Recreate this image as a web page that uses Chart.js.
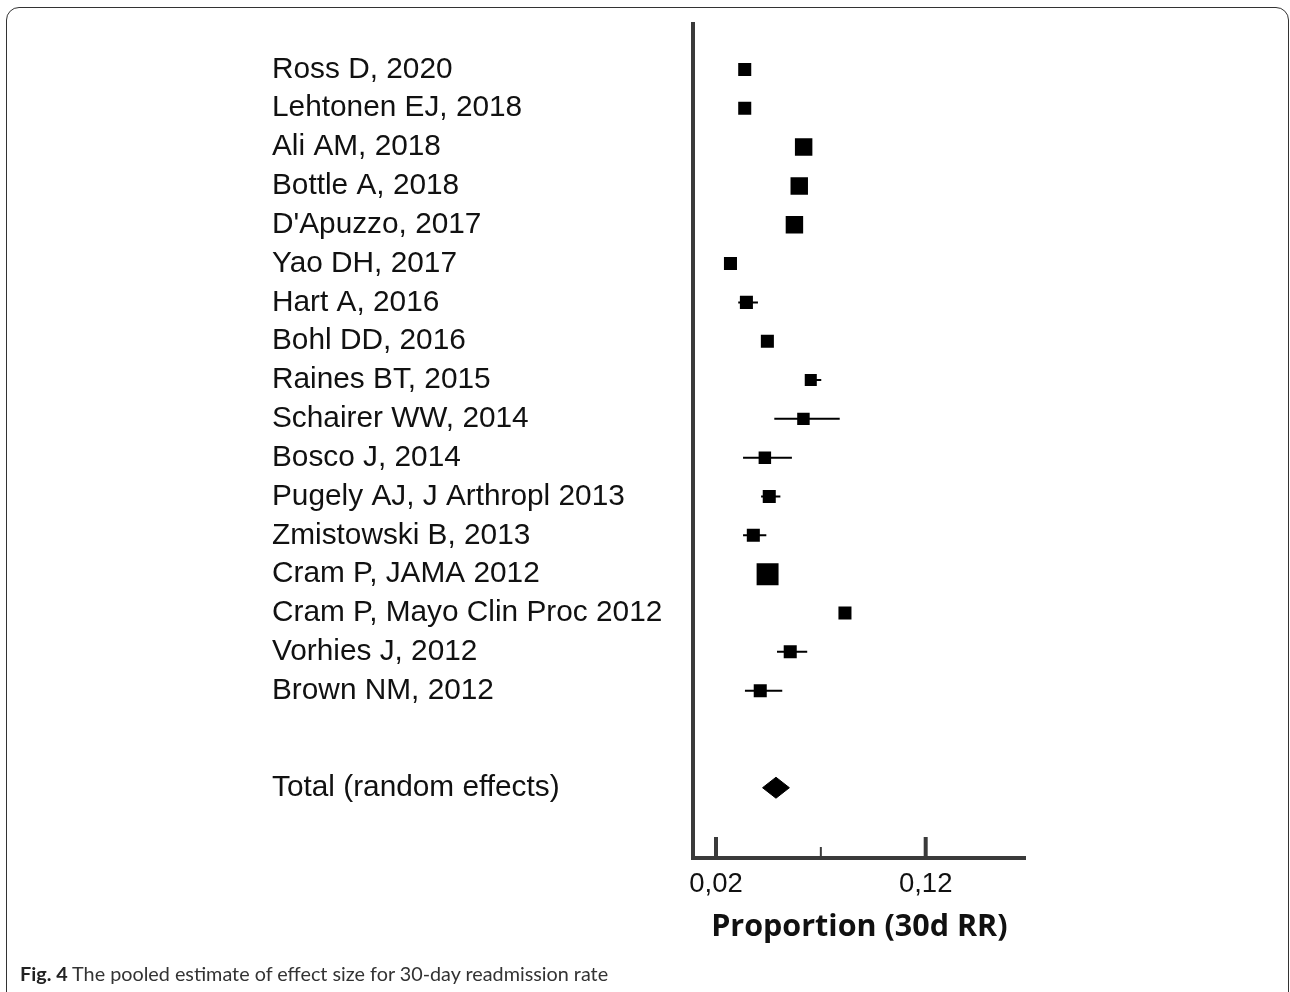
<!DOCTYPE html>
<html lang="en">
<head>
    <meta charset="UTF-8">
    <title>Forest plot - 30 day readmission rate</title>
    <script src="https://cdn.jsdelivr.net/npm/chart.js"></script>
    <style>
        body { margin: 0; background: #fff; }
        #wrap { position: relative; width: 1290px; height: 992px; overflow: hidden; }
        #frame {
            position: absolute; left: 6px; top: 7px; width: 1283px; height: 1000px;
            border: 1.5px solid #333; border-radius: 13px; box-sizing: border-box;
        }
        canvas { position: absolute; left: 0; top: 0; }
        #caption {
            position: absolute; left: 20px; top: 963px;
            font-family: Lato, "Open Sans", sans-serif; font-size: 19.8px; line-height: 21px;
            color: #333; white-space: nowrap;
        }
        #caption b { color: #222; }
    </style>
</head>
<body>
<div id="wrap">
    <div id="frame"></div>
    <canvas id="forest" width="1290" height="992"></canvas>
    <div id="caption"><b>Fig. 4</b> The pooled estimate of effect size for 30-day readmission rate</div>
</div>

<script>
    // studies, top to bottom
    const studies = [
        'Ross D, 2020', 'Lehtonen EJ, 2018', 'Ali AM, 2018', 'Bottle A, 2018', "D'Apuzzo, 2017",
        'Yao DH, 2017', 'Hart A, 2016', 'Bohl DD, 2016', 'Raines BT, 2015', 'Schairer WW, 2014',
        'Bosco J, 2014', 'Pugely AJ, J Arthropl 2013', 'Zmistowski B, 2013', 'Cram P, JAMA 2012',
        'Cram P, Mayo Clin Proc 2012', 'Vorhies J, 2012', 'Brown NM, 2012'
    ];
    const estimate = [0.0337, 0.0337, 0.0618, 0.0597, 0.0574, 0.0269, 0.0345, 0.0445, 0.0652, 0.0617,
                      0.0433, 0.0454, 0.0378, 0.0446, 0.0815, 0.0554, 0.0411];
    const lower    = [0.0322, 0.0322, 0.0600, 0.0580, 0.0556, 0.0254, 0.0306, 0.0430, 0.0625, 0.0478,
                      0.0329, 0.0415, 0.0329, 0.0430, 0.0800, 0.0491, 0.0338];
    const upper    = [0.0352, 0.0352, 0.0636, 0.0614, 0.0592, 0.0284, 0.0400, 0.0460, 0.0702, 0.0790,
                      0.0562, 0.0507, 0.0440, 0.0462, 0.0830, 0.0635, 0.0516];
    // study weights (%)
    const weights  = [4.8, 4.8, 8.6, 8.6, 8.6, 4.8, 4.8, 4.8, 4.1, 4.4,
                      4.4, 4.8, 4.8, 13.6, 4.8, 4.8, 4.8];

    const totalLabel = 'Total (random effects)';
    const totalEstimate = 0.0486;
    const totalLower = 0.0422;
    const totalUpper = 0.0550;

    const xTicks = [0.02, 0.07, 0.12];
    const xTickLabels = ['0,02', '', '0,12'];
    const xTitle = 'Proportion (30d RR)';

    const AXIS_COLOR = '#3a3a3a';
    const TEXT_COLOR = '#111';
    const totalRow = studies.length + 1.5;
    const rows = studies.map((s, i) => i).concat([totalRow]);

    // CI whiskers, null point breaks the line between studies
    const whiskers = [];
    studies.forEach((s, i) => {
        whiskers.push({x: lower[i], y: i}, {x: upper[i], y: i}, {x: null, y: null});
    });

    const boxes = studies.map((s, i) => ({x: estimate[i], y: i}));
    const boxRadius = weights.map(w => 5.95 * Math.sqrt(w) / Math.SQRT2);

    const DIAMOND_HALF = 0.27;
    const diamond = [
        {x: totalLower, y: totalRow},
        {x: totalEstimate, y: totalRow - DIAMOND_HALF},
        {x: totalUpper, y: totalRow},
        {x: totalEstimate, y: totalRow + DIAMOND_HALF},
        {x: totalLower, y: totalRow}
    ];

    // short tick marks pointing up into the plot
    const tickMarks = {
        id: 'tickMarks',
        afterDraw(chart) {
            const sx = chart.scales.x;
            const ctx = chart.ctx;
            ctx.save();
            ctx.strokeStyle = AXIS_COLOR;
            sx.ticks.forEach((t, i) => {
                const major = xTickLabels[i] !== '';
                const px = sx.getPixelForValue(t.value);
                ctx.lineWidth = major ? 4 : 2;
                ctx.beginPath();
                ctx.moveTo(px, sx.top);
                ctx.lineTo(px, sx.top - (major ? 21 : 11));
                ctx.stroke();
            });
            ctx.restore();
        }
    };

    new Chart(document.getElementById('forest'), {
        type: 'scatter',
        data: {
            datasets: [
                {
                    type: 'line',
                    data: whiskers,
                    borderColor: '#000',
                    borderWidth: 2,
                    pointRadius: 0,
                    spanGaps: false
                },
                {
                    data: boxes,
                    pointStyle: 'rect',
                    pointRadius: boxRadius,
                    backgroundColor: '#000',
                    borderWidth: 0
                },
                {
                    type: 'line',
                    data: diamond,
                    borderColor: '#000',
                    backgroundColor: '#000',
                    borderWidth: 1,
                    pointRadius: 0,
                    fill: 'shape',
                    tension: 0
                }
            ]
        },
        options: {
            responsive: false,
            devicePixelRatio: 1,
            animation: false,
            layout: { padding: { left: 272, right: 264.3, top: 24, bottom: 0 } },
            plugins: { legend: { display: false }, tooltip: { enabled: false } },
            scales: {
                x: {
                    type: 'linear',
                    min: 0.00903,
                    max: 0.1677,
                    afterBuildTicks: scale => { scale.ticks = xTicks.map(v => ({value: v})); },
                    afterFit: scale => { scale.height = 134; },
                    grid: { display: false, drawTicks: false },
                    border: { display: true, color: AXIS_COLOR, width: 4 },
                    ticks: {
                        autoSkip: false,
                        maxRotation: 0,
                        padding: 10,
                        color: TEXT_COLOR,
                        font: { family: '"Liberation Sans", Arial, sans-serif', size: 27.5 },
                        callback: (v, i) => xTickLabels[i]
                    },
                    title: {
                        display: true,
                        text: xTitle,
                        color: TEXT_COLOR,
                        font: { family: '"Open Sans", sans-serif', size: 30.5, weight: 'bold' },
                        padding: { top: 0, bottom: 46 }
                    }
                },
                y: {
                    type: 'linear',
                    reverse: true,
                    min: -1.17,
                    max: 20.31,
                    afterBuildTicks: scale => { scale.ticks = rows.map(v => ({value: v})); },
                    afterFit: scale => { scale.width = 421; },
                    grid: { display: false, drawTicks: false },
                    border: { display: true, color: AXIS_COLOR, width: 4 },
                    ticks: {
                        autoSkip: false,
                        crossAlign: 'far',
                        color: TEXT_COLOR,
                        font: { family: '"Liberation Sans", Arial, sans-serif', size: 29.8 },
                        callback: v => v === totalRow ? totalLabel : studies[v]
                    }
                }
            }
        },
        plugins: [tickMarks]
    });
</script>
</body>
</html>
